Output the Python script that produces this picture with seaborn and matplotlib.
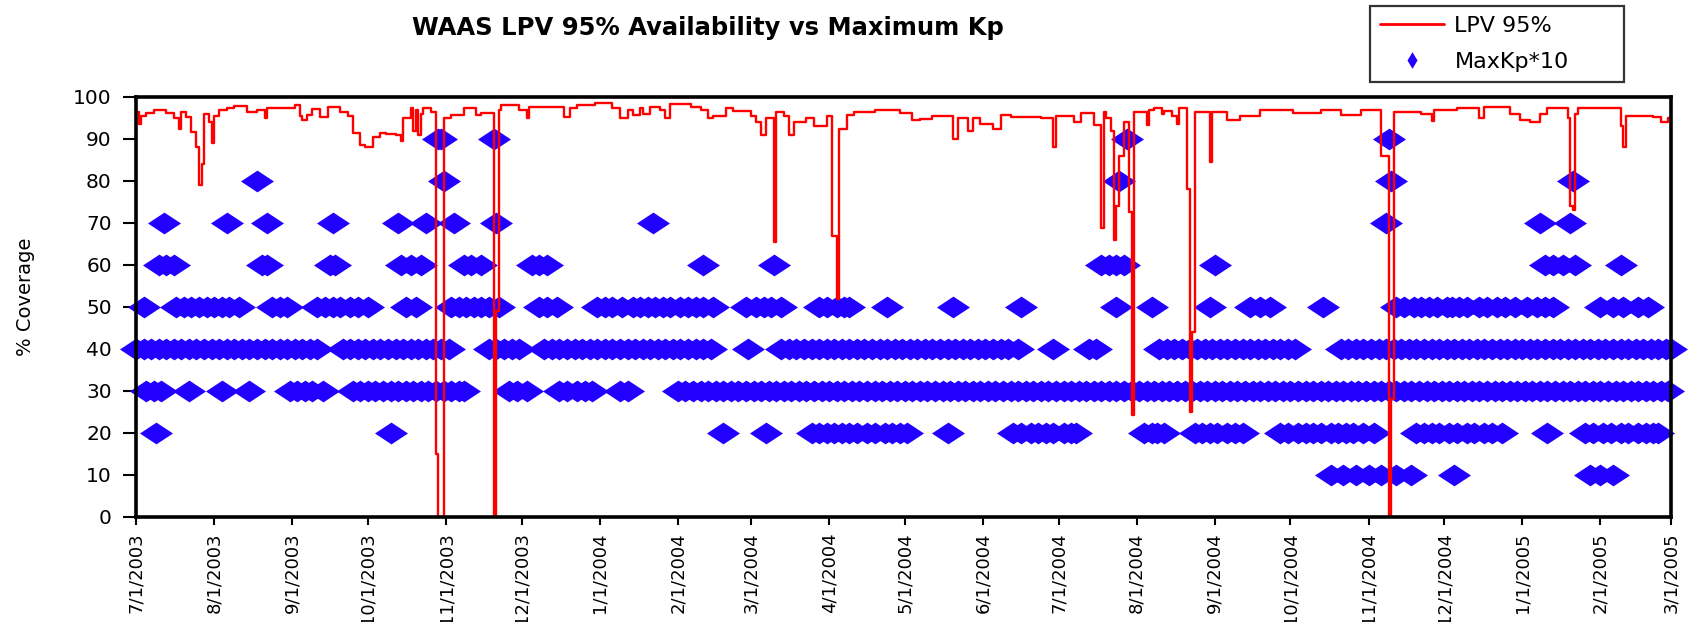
import numpy as np
import pandas as pd
import matplotlib
matplotlib.use("Agg")
import matplotlib.pyplot as plt
import seaborn as sns
from matplotlib.lines import Line2D
from matplotlib.path import Path

START = pd.Timestamp("2003-07-01")
END = pd.Timestamp("2005-03-01")

# LPV 95% availability (day offset from 7/1/2003 where the value changes, value %)
lpv_day = [0, 1, 2, 4, 7, 12, 15, 17, 18, 20, 22, 24, 25, 26, 27, 29, 30, 31, 33, 36,
           39, 44, 48, 51, 52, 63, 65, 66, 68, 70, 73, 76, 81, 84, 86, 89, 91, 94, 97, 99,
           103, 105, 106, 109, 110, 111, 112, 113, 114, 117, 119, 120, 122, 125, 130, 135, 137, 142, 143, 144,
           145, 152, 155, 156, 170, 172, 175, 182, 189, 192, 195, 197, 200, 201, 204, 208, 210, 212, 220, 224,
           227, 229, 234, 237, 244, 246, 248, 250, 253, 254, 257, 259, 261, 266, 269, 274, 276, 278, 279, 282,
           285, 293, 303, 308, 311, 316, 324, 326, 330, 332, 335, 340, 343, 347, 359, 364, 365, 372, 375, 380,
           383, 384, 385, 387, 388, 389, 390, 392, 394, 395, 396, 401, 402, 404, 407, 408, 411, 413, 414, 417,
           418, 419, 420, 426, 427, 433, 438, 446, 459, 470, 478, 486, 494, 497, 498, 499, 510, 514, 515, 524,
           533, 535, 545, 549, 553, 557, 560, 568, 569, 570, 571, 572, 589, 590, 591, 602, 605, 608, 609]
lpv_val = [96.5, 93.5, 95.5, 96.2, 97.0, 96.2, 95.0, 92.5, 96.5, 95.3, 91.7, 88.0, 79.0, 84.0, 96.0, 94.0, 89.0, 95.5, 97.0, 97.5,
           97.8, 96.5, 97.0, 95.0, 97.3, 98.0, 95.5, 94.5, 95.7, 97.2, 95.3, 97.7, 96.5, 95.5, 91.5, 88.5, 88.0, 90.5, 91.5, 91.2,
           90.9, 89.5, 95.0, 97.3, 92.0, 97.0, 91.0, 96.0, 97.4, 96.5, 15.0, 0.0, 95.0, 95.7, 97.5, 95.7, 96.1, 0.0, 49.0, 96.9,
           98.0, 97.0, 95.0, 97.7, 95.3, 97.3, 98.2, 98.5, 97.3, 95.0, 97.0, 95.7, 97.3, 96.0, 97.7, 96.9, 94.9, 98.3, 97.7, 96.9,
           95.0, 95.5, 97.3, 96.7, 95.5, 94.0, 91.0, 95.0, 65.5, 96.5, 95.5, 91.0, 94.0, 95.0, 93.0, 95.5, 67.0, 52.0, 92.5, 95.7,
           96.5, 97.0, 96.2, 94.5, 94.7, 95.5, 90.0, 95.0, 92.0, 95.0, 93.5, 92.5, 95.7, 95.3, 95.0, 88.0, 95.5, 94.0, 96.2, 93.3,
           68.7, 96.5, 95.0, 92.0, 66.0, 74.0, 86.0, 94.0, 72.7, 24.3, 96.5, 93.3, 97.0, 97.5, 96.0, 96.7, 95.5, 93.5, 97.3, 78.0,
           25.0, 44.0, 96.5, 84.6, 96.5, 94.5, 95.5, 97.0, 96.2, 97.0, 95.7, 97.0, 86.0, 0.0, 28.0, 96.5, 96.0, 94.3, 97.0, 97.5,
           95.0, 97.6, 96.0, 94.5, 94.0, 96.0, 97.3, 95.0, 74.0, 73.0, 96.0, 97.3, 93.0, 88.0, 95.5, 95.2, 94.0, 95.0, 95.0]

# Maximum daily Kp (x10): day offsets from 7/1/2003 for each Kp level
kp90_days = [120, 121, 142, 393, 497]
kp80_days = [48, 122, 390, 498, 570]
kp70_days = [11, 36, 52, 78, 104, 115, 126, 143, 205, 496, 557, 569]
kp60_days = [9, 12, 15, 50, 52, 77, 79, 105, 109, 113, 130, 133, 137, 157, 160, 163, 225, 253,
             383, 386, 389, 392, 428, 559, 562, 566, 571, 589]
kp50_days = [3, 16, 19, 22, 25, 28, 31, 34, 37, 41, 54, 57, 60, 72, 75, 78, 81, 85, 88, 92,
             107, 111, 125, 128, 131, 134, 137, 140, 144, 160, 163, 167,
             183, 186, 189, 193, 197, 200, 203, 206, 209, 212, 216, 219, 222, 225, 229,
             242, 246, 249, 252, 256, 271, 274, 278, 281, 283, 298, 324, 351, 389, 403, 426,
             442, 446, 450, 471, 500, 503, 507, 510, 513, 516, 520, 522, 525, 528, 533, 536,
             540, 543, 547, 552, 556, 559, 562, 581, 586, 590, 596, 600]
kp40_days = [0, 3, 6, 9, 12, 15, 18, 21, 24, 27, 30, 33, 36, 39, 42, 45, 48, 51, 54, 57, 60,
             63, 66, 69, 72, 82, 85, 88, 91, 94, 97, 100, 103, 106, 109, 112, 115, 118, 121, 124,
             140, 143, 146, 149, 152, 162, 165, 168, 171, 174, 177, 180, 183, 186, 189, 192, 195,
             198, 201, 204, 207, 210, 213, 216, 219, 222, 225, 228, 243,
             256, 259, 262, 265, 268, 271, 274, 277, 280, 283, 286, 289, 292, 295, 298, 301, 304,
             307, 310, 313, 316, 319, 322, 325, 328, 331, 334, 337, 340, 343, 346, 350, 364, 378,
             381, 406, 409, 412, 415, 418, 421, 424, 427, 430, 433, 436, 439, 442, 445, 448, 451,
             454, 457, 460, 478, 481, 484, 487, 490, 493, 496, 499, 502, 505, 508, 511, 514, 517,
             520, 523, 526, 529, 532, 535, 538, 541, 544, 547, 550, 553, 556, 559, 562, 565, 568,
             571, 574, 577, 580, 583, 586, 589, 592, 595, 598, 601, 604, 607, 609]
kp30_days = [4, 7, 10, 21, 34, 45, 61, 64, 67, 70, 74, 86, 89, 92, 95, 98, 101, 104, 107, 110,
             113, 116, 119, 122, 125, 128, 130, 148, 151, 155, 168, 171, 175, 178, 181, 192, 195,
             215, 218, 221, 224, 227, 230, 233, 236, 239, 242, 245, 248, 251, 254, 257, 260, 263,
             266, 269, 272, 275, 278, 281, 284, 287, 290, 293, 296, 299, 302, 305, 308, 311, 314,
             317, 320, 323, 326, 329, 332, 335, 338, 341, 344, 347, 350, 353, 356, 359, 362, 365,
             368, 371, 374, 377, 380, 383, 386, 389, 392, 395, 398, 401, 404, 407, 410, 413, 416,
             419, 422, 425, 428, 431, 434, 437, 440, 443, 446, 449, 452, 455, 458, 461, 464, 467,
             470, 473, 476, 479, 482, 485, 488, 491, 494, 497, 500, 503, 506, 509, 512, 515, 518,
             521, 524, 527, 530, 533, 536, 539, 542, 545, 548, 551, 554, 557, 560, 563, 566, 569,
             572, 575, 578, 581, 584, 587, 590, 593, 596, 599, 602, 605, 608]
kp20_days = [8, 101, 233, 250, 268, 271, 274, 277, 280, 283, 286, 290, 293, 297, 300, 303, 306,
             322, 348, 351, 355, 358, 361, 364, 368, 371, 373, 400, 403, 405, 408, 420, 423, 426,
             429, 433, 436, 439, 454, 457, 461, 464, 467, 470, 474, 477, 480, 483, 487, 491, 508,
             511, 514, 517, 521, 524, 528, 531, 535, 538, 542, 560, 575, 578, 582, 585, 589, 592,
             596, 599, 602, 604]
kp10_days = [474, 479, 484, 489, 494, 500, 506, 523, 577, 581, 586]

title = "WAAS LPV 95% Availability vs Maximum Kp"
ylabel = "% Coverage"
legend_labels = ["LPV 95%", "MaxKp*10"]

# ---- data frames
lpv_df = pd.DataFrame({"date": START + pd.to_timedelta(lpv_day, unit="D"), "lpv": lpv_val})
levels = {90: kp90_days, 80: kp80_days, 70: kp70_days, 60: kp60_days, 50: kp50_days,
          40: kp40_days, 30: kp30_days, 20: kp20_days, 10: kp10_days}
kp_df = pd.concat([pd.DataFrame({"day": d, "kp10": lvl}) for lvl, d in levels.items()],
                  ignore_index=True)
kp_df["date"] = START + pd.to_timedelta(kp_df["day"], unit="D")

sns.set_theme(style="white")
plt.rcParams["font.family"] = ["DejaVu Sans"]

W, H = 1689, 622
fig = plt.figure(figsize=(W / 100, H / 100), dpi=100)
fig.patch.set_facecolor("white")
ax = fig.add_axes([136 / W, (H - 517) / H, (1671 - 136) / W, 420 / H])

BLUE = "#2200ff"
wide_diamond = Path([(-1, 0), (0, 0.66), (1, 0), (0, -0.66), (-1, 0)],
                    [Path.MOVETO, Path.LINETO, Path.LINETO, Path.LINETO, Path.CLOSEPOLY])
tall_diamond = Path([(-0.6, 0), (0, 1), (0.6, 0), (0, -1), (-0.6, 0)],
                    [Path.MOVETO, Path.LINETO, Path.LINETO, Path.LINETO, Path.CLOSEPOLY])

sns.scatterplot(data=kp_df, x="date", y="kp10", marker=wide_diamond, s=565, color=BLUE,
                linewidth=0, ax=ax, clip_on=False, zorder=2, legend=False)
sns.lineplot(data=lpv_df, x="date", y="lpv", color="#ff0000", lw=1.7, drawstyle="steps-post",
             ax=ax, zorder=3, legend=False)

ax.set_xlim(START, END)
ax.set_ylim(0, 100)
ax.set_yticks(range(0, 101, 10))
ax.set_yticklabels([str(v) for v in range(0, 101, 10)], fontsize=14.5, color="black")
months = pd.date_range(START, END, freq="MS")
ax.set_xticks(months)
ax.set_xticklabels([f"{m.month}/{m.day}/{m.year}" for m in months], rotation=90,
                   fontsize=13, color="black", va="top", ha="center")
ax.tick_params(axis="x", bottom=True, direction="out", length=6, width=1.5, pad=5, color="black")
ax.tick_params(axis="y", left=True, direction="out", length=9.4, width=1.5, pad=8, color="black")
ax.set_xlabel("")
ax.set_ylabel(ylabel, fontsize=14, color="black")
ax.yaxis.set_label_coords(-0.066, 0.524)
for sp in ax.spines.values():
    sp.set_color("black")
    sp.set_linewidth(2.6)
    sp.set_zorder(4)

fig.text(0.419, 1 - 28 / H, title, ha="center", va="center", fontsize=17.5,
         fontweight="bold", color="black")

handles = [Line2D([], [], color="#ff0000", lw=2),
           Line2D([], [], ls="none", marker=tall_diamond, markersize=12, color=BLUE, mew=0)]
leg = fig.legend(handles, legend_labels, loc="upper left", mode="expand",
                 bbox_to_anchor=(1370 / W, 1 - 80 / H, 254 / W, 74 / H),
                 bbox_transform=fig.transFigure,
                 frameon=True, fancybox=False, edgecolor="black", fontsize=16,
                 handlelength=2.9, borderpad=0.45, labelspacing=0.7, handletextpad=0.45,
                 borderaxespad=0)
leg.get_frame().set_linewidth(1.6)
for t in leg.get_texts():
    t.set_color("black")

fig.savefig("out.png", dpi=100, facecolor="white")
